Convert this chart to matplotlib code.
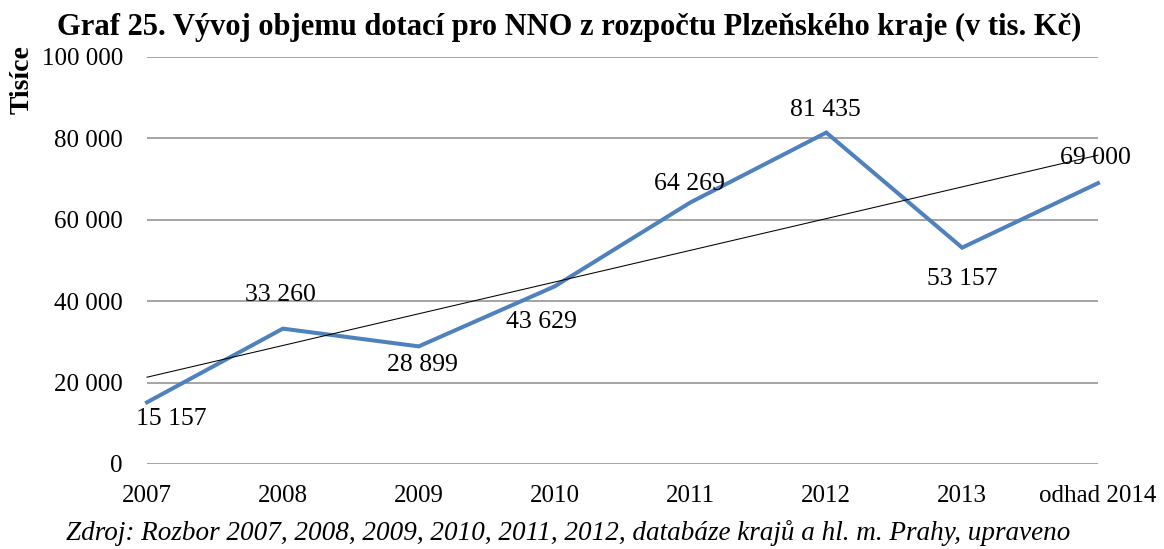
import numpy as np
import matplotlib
matplotlib.use("Agg")
import matplotlib.pyplot as plt
from matplotlib.ticker import FuncFormatter

# data (tis. Kč)
years = ["2007", "2008", "2009", "2010", "2011", "2012", "2013", "odhad 2014"]
values = [15157, 33260, 28899, 43629, 64269, 81435, 53157, 69000]

# label offsets from the point, in pixels (dx, dy downwards)
label_offsets = [(24, 17), (-2, -34), (4, 19), (-13, 36), (-1, -18), (-1, -23), (0, 31), (-3, -25)]

title = "Graf 25. Vývoj objemu dotací pro NNO z rozpočtu Plzeňského kraje (v tis. Kč)"
source = "Zdroj: Rozbor 2007, 2008, 2009, 2010, 2011, 2012, databáze krajů a hl. m. Prahy, upraveno"

serif = "Liberation Serif"
W, H = 1164, 549

fig = plt.figure(figsize=(W / 100, H / 100), dpi=100)
ax = fig.add_axes([147 / W, 1 - 464 / H, (1098 - 147) / W, (464 - 57) / H])

x = np.arange(len(years))
ax.plot(x, values, color="#4F81BD", linewidth=2.9, solid_joinstyle="miter", zorder=3)

# linear trend line
k, q = np.polyfit(x, values, 1)
ax.plot(x, k * x + q, color="black", linewidth=0.75, zorder=4)

def fmt(v):
    return f"{int(v):,}".replace(",", " ")

for xi, v, (dx, dy) in zip(x, values, label_offsets):
    ax.annotate(fmt(v), (xi, v), xytext=(dx * 0.72, -dy * 0.72), textcoords="offset points",
                ha="center", va="center", fontsize=18.5, family=serif, zorder=5)

ax.set_xlim(0, len(years) - 1)
ax.set_ylim(0, 100000)
ax.set_yticks(np.arange(0, 100001, 20000))
ax.yaxis.set_major_formatter(FuncFormatter(lambda v, p: fmt(v)))
ax.set_xticks(x)
ax.set_xticklabels(years)
for lab in ax.get_xticklabels() + ax.get_yticklabels():
    lab.set_fontfamily(serif)
    lab.set_fontsize(18)
ax.tick_params(axis="both", length=0)
ax.tick_params(axis="x", pad=15)
ax.tick_params(axis="y", pad=17.3)

ax.grid(axis="y", color="#8C8C8C", linewidth=1.1)
ax.set_axisbelow(True)
for s in ax.spines.values():
    s.set_visible(False)
for ln in ax.lines:
    ln.set_clip_on(False)

fig.text(22 / W, 1 - 80 / H, "Tisíce", rotation=90, ha="center", va="center",
         fontsize=20, fontweight="bold", family=serif)
fig.text(569 / W, 1 - 35 / H, title, ha="center", va="baseline",
         fontsize=22, fontweight="bold", family=serif)
fig.text(568 / W, 1 - 540 / H, source, ha="center", va="baseline",
         fontsize=19.5, style="italic", family=serif)

fig.savefig("out.png", dpi=100, facecolor="white")
